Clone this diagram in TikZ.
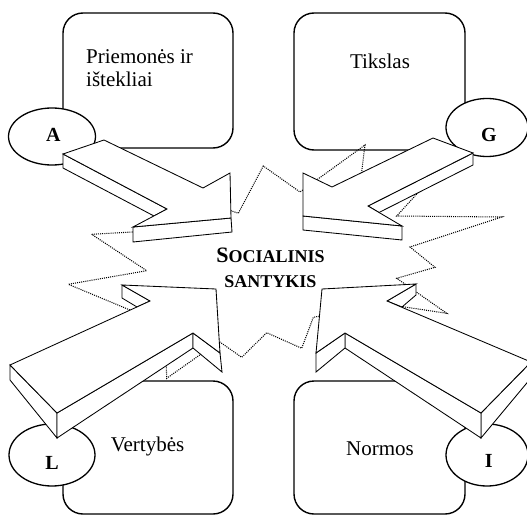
\documentclass[tikz,border=0pt]{standalone}
\usepackage{fontspec}
\setmainfont{Liberation Serif}
\usetikzlibrary{shapes.geometric}

\tikzset{
	box/.style={draw,line width=1.4pt,rounded corners=20pt,fill=white,minimum width=170pt,minimum height=135pt,inner sep=0pt},
	ell/.style={draw,ellipse,line width=1.3pt,fill=white,inner sep=0pt},
	face/.style={draw,fill=white,line width=0.85pt,line join=miter},
	star/.style={line width=1.05pt,dash pattern=on 1pt off 1.1pt},
	boxtext/.style={font=\fontsize{21}{23}\selectfont,inner sep=0pt},
	letter/.style={font=\fontsize{20}{20}\selectfont\bfseries,inner sep=0pt}
}

\begin{document}
\begin{tikzpicture}[x=1pt,y=-1pt]
		\useasboundingbox (0,0) rectangle (527,516);
		\clip (0,0) rectangle (527,516);

		% four boxes
		\node[box] (res) at (148,80.5) {};
		\node[box,minimum width=171pt,minimum height=137pt] (goal) at (379.5,81.5) {};
		\node[box,minimum height=133pt] (val) at (148,447.5) {};
		\node[box,minimum width=171pt,minimum height=133pt] (norm) at (379.5,447.5) {};

		\node[boxtext,anchor=north west,align=left] (restxt) at (86,49.5) {Priemonės ir\\ištekliai};
		\node[boxtext] (goaltxt) at (380,61.5) {Tikslas};
		\node[boxtext] (valtxt) at (147.5,446) {Vertybės};
		\node[boxtext] (normtxt) at (380,449) {Normos};

		% AGIL
		\node[ell,minimum width=87pt,minimum height=57pt] (A) at (52,136.5) {};
		\node[ell,minimum width=82pt,minimum height=58pt] (G) at (487,127.5) {};
		\node[ell,minimum width=86pt,minimum height=62pt] (L) at (52,455) {};
		\node[ell,minimum width=82pt,minimum height=62pt] (I) at (487,455) {};
		\node[letter] (Atxt) at (53.3,134.5) {A};
		\node[letter] (Gtxt) at (489,135) {G};
		\node[letter] (Ltxt) at (52,462.5) {L};
		\node[letter] (Itxt) at (488.7,461) {I};

		% star
		\draw[star] (91.7,234.3) -- (150,231) -- (215,205) -- (238.3,213.3) -- (263.3,166) -- (300,192)
			-- (365,145) -- (360,185) -- (425,185) -- (396.7,216) -- (501.7,217) -- (410,247)
			-- (435,267.3) -- (396.7,278.3) -- (446.7,313.3) -- (385,304) -- (313.3,317.3) -- (301.7,348.3)
			-- (266.7,332.7) -- (241.7,357.3) -- (219,341.4) -- (166.7,378.3) -- (165,324.6)
			-- (68.3,284.3) -- (146.7,270.7) -- cycle;

		% arrow A
		\filldraw[face] (63,154) -- (63,168) -- (154,216) -- (167,209) -- cycle;
		\filldraw[face] (133,227) -- (133,242) -- (232,232) -- (231,218) -- cycle;
		\filldraw[face] (63,154) -- (104,140) -- (203,188) -- (230,173) -- (231,218) -- (133,227) -- (167,209) -- cycle;

		% arrow G
		\filldraw[face] (473,153) -- (473,165) -- (379,212.5) -- (368,206) -- cycle;
		\filldraw[face] (303,216) -- (303,230) -- (402,240) -- (402,226) -- cycle;
		\filldraw[face] (433,138) -- (332,187) -- (303,173) -- (303,216) -- (402,226) -- (368,206) -- (473,153) -- cycle;

		% arrow L
		\filldraw[face] (10,365) -- (10,380) -- (57,438) -- (57,413) -- cycle;
		\filldraw[face] (57,413) -- (57,438) -- (193,348) -- (193,333) -- cycle;
		\filldraw[face] (193,333) -- (193,348) -- (222,372) -- (220,353) -- cycle;
		\filldraw[face] (122,285) -- (122,298) -- (137,307) -- (150,301) -- cycle;
		\filldraw[face] (10,365) -- (150,301) -- (122,285) -- (216,289) -- (220,353) -- (193,333) -- (57,413) -- cycle;

		% arrow I
		\filldraw[face] (481,413) -- (481,438) -- (531,378) -- (531,362) -- cycle;
		\filldraw[face] (345,333) -- (345,348) -- (481,438) -- (481,413) -- cycle;
		\filldraw[face] (316,353) -- (316,372) -- (345,348) -- (345,333) -- cycle;
		\filldraw[face] (416,284) -- (416,295) -- (402,307) -- (387,301) -- cycle;
		\filldraw[face] (531,362) -- (387,301) -- (416,284) -- (322,289) -- (316,353) -- (345,333) -- (481,413) -- cycle;

		% relation
		\node[font=\fontsize{18}{25.6}\selectfont\bfseries,align=center,inner sep=0pt] (rel) at (270.5,268) {{\fontsize{22}{25.6}\selectfont S}OCIALINIS\\SANTYKIS};
	\end{tikzpicture}
\end{document}
